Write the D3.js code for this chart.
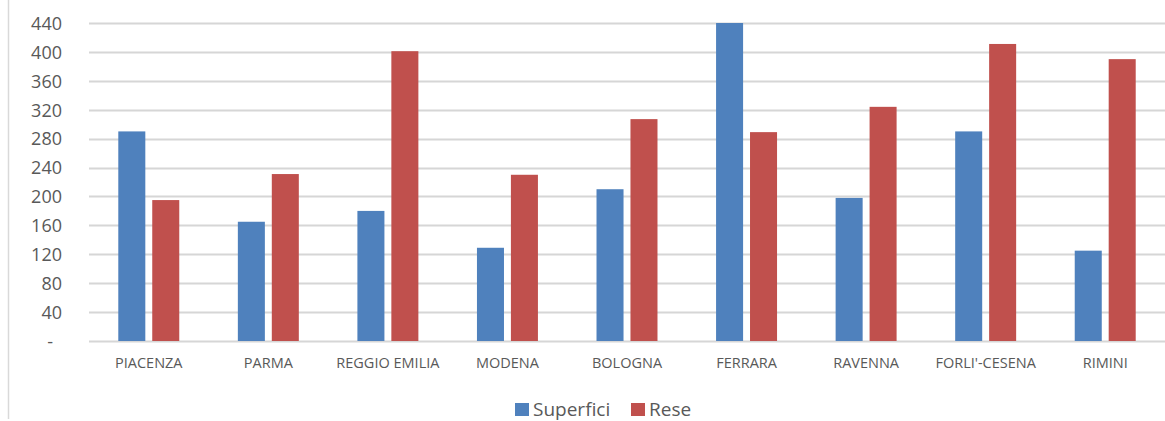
<!DOCTYPE html>
<html><head><meta charset="utf-8">
<script src="https://cdn.jsdelivr.net/npm/d3@7"></script>
<style>html,body{margin:0;padding:0;background:#fff;}svg{display:block;}</style>
</head><body>
<svg id="c" width="1165" height="421"></svg>
<script>
const categories = ["PIACENZA","PARMA","REGGIO EMILIA","MODENA","BOLOGNA","FERRARA","RAVENNA","FORLI'-CESENA","RIMINI"];
const seriesNames = ["Superfici","Rese"];
const superfici = [290,165,180,129,210,440,198,290,125];
const rese = [195,231,401,230,307,289,324,411,390];
const yTicks = [0,40,80,120,160,200,240,280,320,360,400,440];
const colors = ["#4F81BD","#C0504D"];

(function(){
const svg = d3.select("#c");
const font = "'Open Sans', sans-serif";
const pLeft = 89, pRight = 1165, pTop = 23, pBottom = 341;

// chart border line on the left
svg.append("line").attr("x1",8.5).attr("x2",8.5).attr("y1",0).attr("y2",419)
  .attr("stroke","#d9d9d9").attr("stroke-width",1.5);

const y = d3.scaleLinear().domain([0,440]).range([pBottom, pTop]);
const x0 = d3.scaleBand().domain(categories).range([pLeft, pRight]).padding(0);
const step = x0.step();
const bw = step*0.226, gap = step*0.058;
const x1 = d3.scaleOrdinal().domain(seriesNames).range([-(bw+gap/2), gap/2]);

// gridlines
svg.append("g").selectAll("line").data(yTicks).join("line")
  .attr("x1",pLeft).attr("x2",pRight)
  .attr("y1",d=>Math.round(y(d))+0.5).attr("y2",d=>Math.round(y(d))+0.5)
  .attr("stroke","#d6d6d6").attr("stroke-width",1.8);

// y axis labels
const yAxis = d3.axisLeft(y).tickValues(yTicks).tickSize(0).tickPadding(0)
  .tickFormat(d=> d===0 ? "-" : d3.format("d")(d));
const ga = svg.append("g").attr("transform",`translate(62,0)`).call(yAxis);
ga.select(".domain").remove();
ga.selectAll("text").attr("font-family",font).attr("font-size",18).attr("fill","#595959").attr("dy","0.35em");
ga.selectAll(".tick").filter(d=>d===0).select("text").attr("dx",-9);

// bars
const data = categories.map((c,i)=>({c, vals:[superfici[i], rese[i]]}));
const groups = svg.append("g").selectAll("g").data(data).join("g")
  .attr("transform",d=>`translate(${x0(d.c)+step/2},0)`);
groups.selectAll("rect").data(d=>d.vals.map((v,j)=>({v, s:seriesNames[j], j})))
  .join("rect")
  .attr("x",d=>x1(d.s)).attr("width",bw)
  .attr("y",d=>y(d.v)).attr("height",d=>y(0)-y(d.v))
  .attr("fill",d=>colors[d.j]);

// x axis labels
const xAxis = d3.axisBottom(x0).tickSize(0).tickPadding(0);
const gx = svg.append("g").attr("transform",`translate(0,${pBottom})`).call(xAxis);
gx.select(".domain").remove();
gx.selectAll("text").attr("font-family",font).attr("font-size",14.5).attr("fill","#595959")
  .attr("y",22).attr("dy","0.35em");

// legend
const legend = svg.append("g");
const lg = [{name:seriesNames[0], x:515, c:colors[0]},{name:seriesNames[1], x:631, c:colors[1]}];
lg.forEach(l=>{
  legend.append("rect").attr("x",l.x).attr("y",403).attr("width",14).attr("height",13).attr("fill",l.c);
  legend.append("text").attr("x",l.x+18).attr("y",416).text(l.name)
    .attr("font-family",font).attr("font-size",19).attr("fill","#595959");
});
})();
</script>
</body></html>
